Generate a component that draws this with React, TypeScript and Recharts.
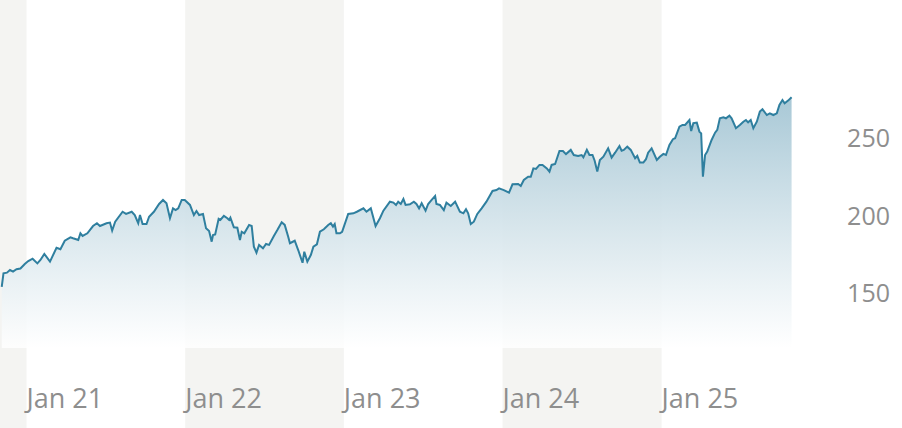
import { AreaChart, Area, XAxis, YAxis, ReferenceArea } from 'recharts';

// closing values, roughly weekly
const dates = [
  // 2020
  '2020-11-05', '2020-11-09', '2020-11-17', '2020-11-24', '2020-12-01', '2020-12-09', '2020-12-18', '2020-12-28',
  // 2021
  '2021-01-05', '2021-01-15', '2021-01-26', '2021-02-02', '2021-02-11', '2021-02-24', '2021-03-11', '2021-03-20',
  '2021-03-30', '2021-04-12', '2021-04-18', '2021-04-30', '2021-05-05', '2021-05-10', '2021-05-21', '2021-06-03',
  '2021-06-12', '2021-06-19', '2021-07-04', '2021-07-12', '2021-07-17', '2021-07-24', '2021-08-10', '2021-08-18',
  '2021-08-31', '2021-09-07', '2021-09-15', '2021-09-19', '2021-09-25', '2021-10-04', '2021-10-10', '2021-10-21',
  '2021-11-02', '2021-11-11', '2021-11-19', '2021-11-27', '2021-12-04', '2021-12-10', '2021-12-16', '2021-12-24',
  '2021-12-31',
  // 2022
  '2022-01-12', '2022-01-21', '2022-01-27', '2022-02-02', '2022-02-11', '2022-02-18', '2022-02-25', '2022-03-03',
  '2022-03-06', '2022-03-11', '2022-03-19', '2022-03-23', '2022-03-31', '2022-04-08', '2022-04-12', '2022-04-15',
  '2022-04-23', '2022-05-01', '2022-05-07', '2022-05-11', '2022-05-17', '2022-05-28', '2022-06-03', '2022-06-08',
  '2022-06-14', '2022-06-20', '2022-06-29', '2022-07-06', '2022-07-13', '2022-07-24', '2022-08-01', '2022-08-11',
  '2022-08-18', '2022-08-26', '2022-08-30', '2022-09-10', '2022-09-18', '2022-09-28', '2022-10-02', '2022-10-09',
  '2022-10-17', '2022-10-23', '2022-10-31', '2022-11-07', '2022-11-16', '2022-11-26', '2022-12-02', '2022-12-07',
  '2022-12-11', '2022-12-15', '2022-12-23', '2022-12-28',
  // 2023
  '2023-01-11', '2023-01-23', '2023-01-31', '2023-02-15', '2023-02-22', '2023-03-04', '2023-03-15', '2023-03-25',
  '2023-04-02', '2023-04-17', '2023-04-25', '2023-05-01', '2023-05-06', '2023-05-12', '2023-05-18', '2023-05-23',
  '2023-06-02', '2023-06-11', '2023-06-17', '2023-06-23', '2023-06-29', '2023-07-08', '2023-07-14', '2023-07-22',
  '2023-07-30', '2023-08-02', '2023-08-10', '2023-08-19', '2023-08-25', '2023-09-04', '2023-09-14', '2023-09-25',
  '2023-10-03', '2023-10-09', '2023-10-14', '2023-10-20', '2023-10-27', '2023-11-04', '2023-11-14', '2023-11-25',
  '2023-12-09', '2023-12-18', '2023-12-24',
  // 2024
  '2024-01-04', '2024-01-16', '2024-01-24', '2024-02-06', '2024-02-12', '2024-02-19', '2024-02-29', '2024-03-06',
  '2024-03-12', '2024-03-18', '2024-03-26', '2024-04-02', '2024-04-12', '2024-04-18', '2024-04-23', '2024-05-01',
  '2024-05-11', '2024-05-19', '2024-05-26', '2024-06-06', '2024-06-13', '2024-06-23', '2024-07-01', '2024-07-05',
  '2024-07-13', '2024-07-19', '2024-07-26', '2024-07-31', '2024-08-06', '2024-08-12', '2024-08-20', '2024-08-31',
  '2024-09-08', '2024-09-16', '2024-09-26', '2024-10-01', '2024-10-06', '2024-10-14', '2024-10-22', '2024-11-01',
  '2024-11-06', '2024-11-12', '2024-11-20', '2024-11-26', '2024-12-01', '2024-12-09', '2024-12-21', '2024-12-28',
  // 2025
  '2025-01-05', '2025-01-11', '2025-01-19', '2025-01-27', '2025-02-01', '2025-02-11', '2025-02-18', '2025-02-24',
  '2025-03-06', '2025-03-10', '2025-03-15', '2025-03-23', '2025-03-29', '2025-04-02', '2025-04-06', '2025-04-11',
  '2025-04-16', '2025-04-26', '2025-05-04', '2025-05-09', '2025-05-15', '2025-05-23', '2025-05-29', '2025-06-06',
  '2025-06-11', '2025-06-21', '2025-06-30', '2025-07-08', '2025-07-14', '2025-07-19', '2025-07-25', '2025-07-31',
  '2025-08-08', '2025-08-15', '2025-08-21', '2025-08-31', '2025-09-07', '2025-09-15', '2025-09-23', '2025-09-29',
  '2025-10-06', '2025-10-11', '2025-10-19', '2025-10-27',
];

const prices = [
  // 2020
  154.2, 162.9, 163.3, 165.0, 164.0, 165.5, 166.0, 168.9,
  // 2021
  170.8, 172.3, 169.3, 171.5, 175.4, 170.4, 179.4, 178.4,
  183.9, 186.1, 185.5, 184.4, 188.7, 187.0, 188.7, 193.4,
  195.2, 193.4, 195.2, 195.6, 190.4, 196.2, 202.6, 201.2,
  202.6, 200.5, 195.2, 200.5, 194.7, 194.7, 199.4, 202.6,
  207.6, 210.2, 208.1, 198.4, 204.8, 203.7, 204.8, 210.2,
  210.2,
  // 2022
  207.0, 200.5, 203.1, 200.5, 201.2, 191.9, 190.2, 183.3,
  187.6, 188.0, 198.0, 197.3, 199.9, 198.4, 197.3, 198.8,
  192.6, 192.3, 184.4, 189.7, 188.7, 194.1, 193.4, 180.1,
  176.2, 181.2, 179.0, 181.8, 181.2, 187.0, 190.8, 195.8,
  194.1, 186.5, 182.3, 183.9, 177.9, 169.7, 176.8, 170.4,
  174.7, 180.1, 181.6, 189.7, 191.3, 194.1, 195.2, 193.0,
  194.7, 188.7, 188.7, 189.7,
  // 2023
  201.2, 201.6, 202.6, 204.8, 202.6, 204.8, 193.4, 198.4,
  203.3, 209.1, 208.5, 207.0, 209.1, 207.6, 210.8, 207.0,
  207.4, 209.1, 207.6, 204.8, 208.1, 203.3, 207.6, 210.2,
  212.8, 207.6, 207.0, 203.7, 208.5, 206.3, 209.1, 202.6,
  201.6, 204.2, 201.6, 194.7, 196.2, 201.2, 204.8, 209.1,
  216.0, 216.6, 217.7,
  // 2024
  216.6, 214.9, 220.3, 220.5, 219.2, 223.1, 225.2, 225.2,
  230.6, 230.2, 232.8, 232.8, 230.6, 228.5, 232.8, 233.4,
  241.8, 241.8, 239.8, 242.5, 239.2, 238.6, 239.2, 237.7,
  242.5, 239.2, 239.2, 235.5, 228.5, 236.0, 238.1, 243.5,
  237.5, 240.7, 245.0, 242.0, 242.5, 244.6, 242.5, 237.1,
  238.6, 234.3, 234.3, 236.5, 240.7, 243.5, 236.0, 238.1,
  // 2025
  239.9, 239.2, 245.7, 249.4, 250.0, 257.5, 258.6, 258.6,
  261.8, 254.7, 259.7, 260.1, 254.3, 253.2, 225.2, 239.2,
  241.4, 248.9, 253.6, 255.4, 262.9, 263.5, 262.9, 264.6,
  262.9, 256.5, 258.6, 260.7, 261.8, 260.3, 261.8, 256.5,
  260.7, 267.2, 268.7, 265.0, 266.1, 265.0, 266.1, 271.5,
  274.7, 272.6, 274.3, 276.5,
];

const xDomain = ['2020-11-01', '2026-07-08'];
const xTickDates = ['2021-01-01', '2022-01-01', '2023-01-01', '2024-01-01', '2025-01-01'];
const xTickLabels = ['Jan 21', 'Jan 22', 'Jan 23', 'Jan 24', 'Jan 25'];
const yTicks = [150, 200, 250];
const yDomain = [63.1, 339.2];
const areaBase = 114.7;

// shaded years
const bandStarts = ['2020-11-01', '2022-01-01', '2024-01-01'];
const bandEnds = ['2021-01-01', '2023-01-01', '2025-01-01'];

const data = dates.map((d, i) => ({ t: Date.parse(d), price: prices[i] }));
const xTicks = xTickDates.map((d) => Date.parse(d));

const labelColor = '#8e8e8e';
const font = "'Open Sans', 'Noto Sans', sans-serif";

export default function App() {
    return (
        <div style={{ position: 'absolute', left: 0, top: 0, width: 902, height: 428 }}>
            <AreaChart
                width={902}
                height={428}
                data={data}
                margin={{ top: 0, right: 0, bottom: 0, left: 0 }}
            >
                <defs>
                    <linearGradient id="priceFill" x1="0" y1="0" x2="0" y2="1">
                        <stop offset="0%" stopColor="#a8c8d6" stopOpacity={1} />
                        <stop offset="100%" stopColor="#ffffff" stopOpacity={0.85} />
                    </linearGradient>
                </defs>
                {bandStarts.map((s, i) => (
                    <ReferenceArea
                        key={s}
                        x1={Date.parse(s)}
                        x2={Date.parse(bandEnds[i])}
                        fill="#f4f4f2"
                        fillOpacity={1}
                        stroke="none"
                        zIndex={-50}
                    />
                ))}
                <XAxis
                    dataKey="t"
                    type="number"
                    domain={xDomain.map((d) => Date.parse(d))}
                    allowDataOverflow
                    ticks={xTicks}
                    interval={0}
                    tickFormatter={(v) => xTickLabels[xTicks.indexOf(v)]}
                    mirror
                    height={30}
                    axisLine={false}
                    tickLine={false}
                    tickSize={0}
                    tickMargin={20}
                    tick={{ textAnchor: 'start', fill: labelColor, fontSize: 27, fontFamily: font }}
                />
                <YAxis
                    orientation="right"
                    type="number"
                    domain={yDomain}
                    allowDataOverflow
                    ticks={yTicks}
                    mirror
                    width={60}
                    axisLine={false}
                    tickLine={false}
                    tickSize={0}
                    tickMargin={12}
                    tick={{ fill: labelColor, fontSize: 25, fontFamily: font }}
                />
                <Area
                    type="linear"
                    dataKey="price"
                    baseValue={areaBase}
                    stroke="#2f7f9f"
                    strokeWidth={2}
                    fill="url(#priceFill)"
                    fillOpacity={1}
                    dot={false}
                    activeDot={false}
                    isAnimationActive={false}
                />
            </AreaChart>
        </div>
    );
}
